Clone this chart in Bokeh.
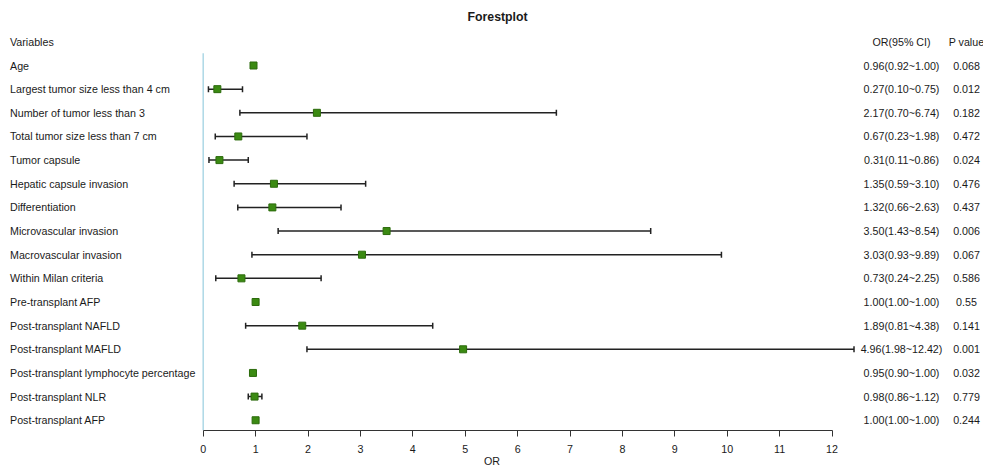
from bokeh.plotting import figure
from bokeh.models import ColumnDataSource, Range1d, FixedTicker, Whisker, TeeHead
from bokeh.core.properties import value
from bokeh.embed import file_html
from bokeh.resources import INLINE

# ---- data ----
variables = [
    "Age", "Largest tumor size less than 4 cm", "Number of tumor less than 3",
    "Total tumor size less than 7 cm", "Tumor capsule", "Hepatic capsule invasion",
    "Differentiation", "Microvascular invasion", "Macrovascular invasion",
    "Within Milan criteria", "Pre-transplant AFP", "Post-transplant NAFLD",
    "Post-transplant MAFLD", "Post-transplant lymphocyte percentage",
    "Post-transplant NLR", "Post-transplant AFP",
]
or_vals = [0.96, 0.27, 2.17, 0.67, 0.31, 1.35, 1.32, 3.50, 3.03, 0.73, 1.00, 1.89, 4.96, 0.95, 0.98, 1.00]
ci_low = [0.92, 0.10, 0.70, 0.23, 0.11, 0.59, 0.66, 1.43, 0.93, 0.24, 1.00, 0.81, 1.98, 0.90, 0.86, 1.00]
ci_high = [1.00, 0.75, 6.74, 1.98, 0.86, 3.10, 2.63, 8.54, 9.89, 2.25, 1.00, 4.38, 12.42, 1.00, 1.12, 1.00]
p_values = ["0.068", "0.012", "0.182", "0.472", "0.024", "0.476", "0.437", "0.006",
            "0.067", "0.586", "0.55", "0.141", "0.001", "0.032", "0.779", "0.244"]
x_ticks = list(range(0, 13))

# ---- layout constants (pixels -> data) ----
ORIGIN = 0       # page offset of the figure
PX0 = 202.7      # page x of OR = 0
PXU = 52.4       # px per unit
FIG_W, FIG_H = 983, 470
TOP_B, BOT_B = 28, 40
ROW0, ROW_STEP = 65.0, 23.65   # page y of first row, spacing

def dx(page_x):
    return (page_x - PX0) / PXU

def dy(page_y):
    return (page_y - ROW0) / ROW_STEP

rows = list(range(len(variables)))
or_text = ["%.2f(%.2f~%.2f)" % (o, l, h) for o, l, h in zip(or_vals, ci_low, ci_high)]

src = ColumnDataSource(dict(row=rows, var=variables, orv=or_vals, lo=ci_low, hi=ci_high,
                            ortxt=or_text, pv=p_values))

frame_top = ORIGIN + TOP_B
frame_bot = ORIGIN + FIG_H - BOT_B

p = figure(width=FIG_W, height=FIG_H, output_backend="svg", toolbar_location=None,
           x_range=Range1d(dx(ORIGIN), dx(ORIGIN + FIG_W)),
           y_range=Range1d(dy(frame_bot), dy(frame_top)),
           y_axis_location=None,
           min_border_left=0, min_border_right=0,
           min_border_top=TOP_B, min_border_bottom=BOT_B)
p.outline_line_color = None
p.grid.visible = False

FONT = value("Liberation Sans")
FS = "10.7px"
TXT = "#1a1a1a"

p.title.text = "Forestplot"
p.title.align = "left"
p.title.offset = 467
p.title.text_font = "Liberation Sans"
p.title.text_font_size = "12.3px"
p.title.text_font_style = "bold"
p.title.text_color = TXT
p.title.standoff = 9

# reference line at OR = 0
p.segment(x0=0, y0=dy(52.7), x1=0, y1=dy(frame_bot), line_color="#add8e6", line_width=1.5)

# CI whiskers
wk = Whisker(source=src, base="row", lower="lo", upper="hi", dimension="width",
             line_color="#222222", line_width=1.5,
             lower_head=TeeHead(size=6, line_color="#222222", line_width=1.5),
             upper_head=TeeHead(size=6, line_color="#222222", line_width=1.5))
p.add_layout(wk)

# point estimates
p.scatter(x="orv", y="row", source=src, marker="square", size=7,
          fill_color="#3b8a12", line_color="#2c6b0c", line_width=1)

# left column
p.text(x=dx(9.5), y="row", text="var", source=src, text_font=FONT, text_font_size=FS,
       text_color=TXT, text_align="left", text_baseline="middle")
p.text(x=[dx(9.5)], y=[-1], text=["Variables"], text_font=FONT, text_font_size=FS,
       text_color=TXT, text_align="left", text_baseline="middle")

# right columns
OR_X, P_X = dx(901), dx(966)
p.text(x=OR_X, y="row", text="ortxt", source=src, text_font=FONT, text_font_size=FS,
       text_color=TXT, text_align="center", text_baseline="middle")
p.text(x=P_X, y="row", text="pv", source=src, text_font=FONT, text_font_size=FS,
       text_color=TXT, text_align="center", text_baseline="middle")
p.text(x=[OR_X, P_X], y=[-1, -1], text=["OR(95% CI)", "P value"], text_font=FONT,
       text_font_size=FS, text_color=TXT, text_align="center", text_baseline="middle")

# x axis
ax = p.xaxis[0]
ax.ticker = FixedTicker(ticks=x_ticks)
ax.bounds = (0, 12)
ax.axis_line_color = "#333333"
ax.major_tick_line_color = "#333333"
ax.minor_tick_line_color = None
ax.major_tick_in = 0
ax.major_tick_out = 6
ax.major_label_standoff = 8
ax.major_label_text_font = "Liberation Sans"
ax.major_label_text_font_size = FS
ax.major_label_text_color = TXT
ax.axis_label = "OR"
ax.axis_label_standoff = -1
ax.axis_label_text_font = "Liberation Sans"
ax.axis_label_text_font_size = FS
ax.axis_label_text_font_style = "normal"
ax.axis_label_text_color = TXT

open("out.html", "w").write(file_html(p, INLINE))
